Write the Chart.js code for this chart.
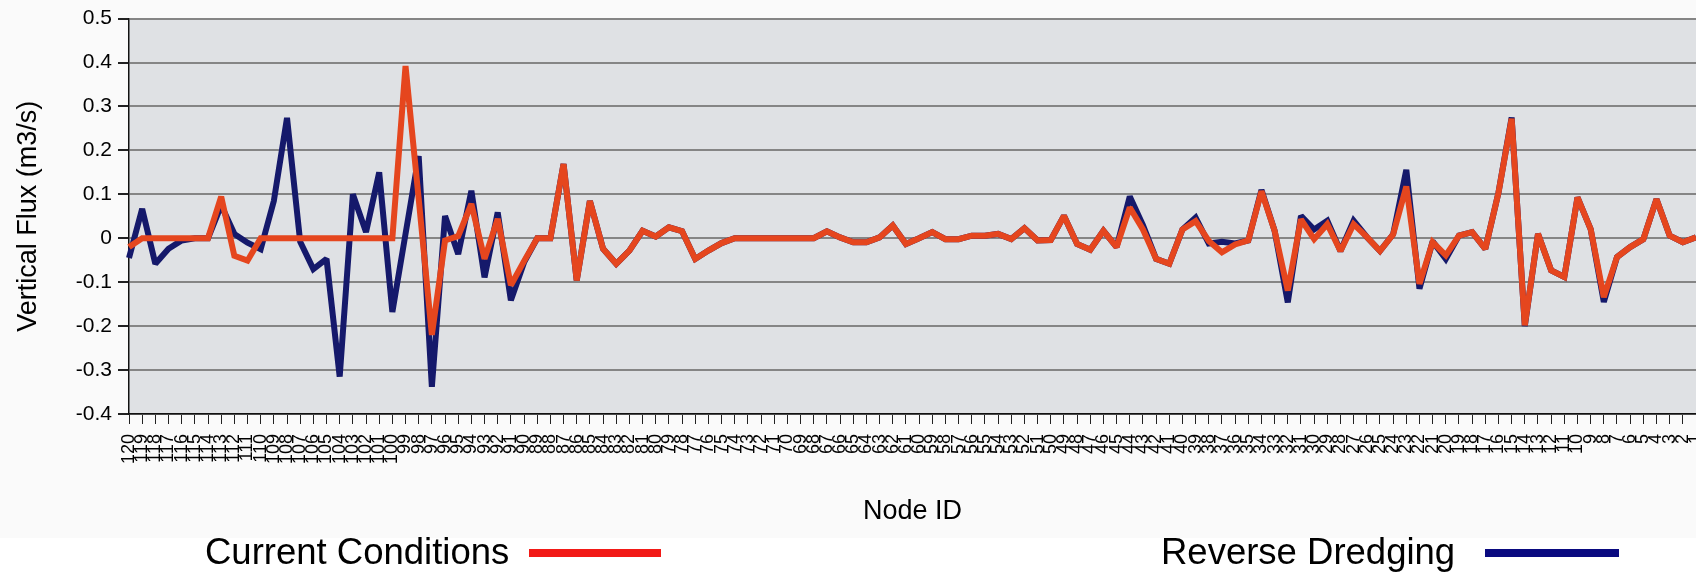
<!DOCTYPE html>
<html>
<head>
<meta charset="utf-8">
<script src="https://cdn.jsdelivr.net/npm/chart.js@4.4.1/dist/chart.umd.min.js"></script>
<style>
  html, body { margin: 0; padding: 0; background: #fff; overflow: hidden; }
  #wrap { position: relative; width: 1696px; height: 572px; }
  #wrap canvas { position: absolute; left: 0; top: 0; }
  .key-text {
    position: absolute; top: 534px; margin: 0;
    font-family: "Liberation Sans", Arial, sans-serif; font-size: 36.5px; line-height: 36px;
    color: #000; white-space: nowrap;
  }
  .key-line { position: absolute; top: 549px; height: 8px; }
</style>
</head>
<body>
<div id="wrap">
  <canvas id="flux" width="1696" height="572"></canvas>
  <div class="key-text" style="left:205px">Current Conditions</div>
  <div class="key-line" style="left:529px;width:132px;background:#f21a17"></div>
  <div class="key-text" style="left:1161px">Reverse Dredging</div>
  <div class="key-line" style="left:1485px;width:134px;background:#0a0a80"></div>
</div>
<script>
// Node IDs along the reach, listed downstream from 120 to 1
const nodeIds = [
  120,119,118,117,116,115,114,113,112,111,110,109,108,107,106,105,104,103,102,101,
  100,99,98,97,96,95,94,93,92,91,90,89,88,87,86,85,84,83,82,81,
  80,79,78,77,76,75,74,73,72,71,70,69,68,67,66,65,64,63,62,61,
  60,59,58,57,56,55,54,53,52,51,50,49,48,47,46,45,44,43,42,41,
  40,39,38,37,36,35,34,33,32,31,30,29,28,27,26,25,24,23,22,21,
  20,19,18,17,16,15,14,13,12,11,10,9,8,7,6,5,4,3,2,1
];

// Vertical flux (m3/s) per node, present-day bed
const currentConditions = [
  -0.02, 0, 0, 0, 0, 0, 0, 0.095, -0.04, -0.051,
  0, 0, 0, 0, 0, 0, 0, 0, 0, 0,
  0, 0.392, 0.09, -0.22, -0.005, 0.005, 0.078, -0.047, 0.044, -0.107,
  -0.052, 0, 0, 0.169, -0.096, 0.085, -0.024, -0.058, -0.028, 0.017,
  0.004, 0.025, 0.016, -0.047, -0.028, -0.011, 0, 0, 0, 0,
  0, 0, 0, 0.016, 0.002, -0.009, -0.009, 0.002, 0.029, -0.013,
  0, 0.014, -0.002, -0.002, 0.006, 0.006, 0.01, -0.002, 0.023, -0.005,
  -0.004, 0.051, -0.013, -0.026, 0.017, -0.02, 0.07, 0.02, -0.047, -0.058,
  0.02, 0.039, -0.006, -0.032, -0.014, -0.005, 0.107, 0.017, -0.119, 0.043,
  -0.002, 0.032, -0.029, 0.032, 0.003, -0.029, 0.009, 0.118, -0.104, -0.009,
  -0.039, 0.006, 0.014, -0.024, 0.104, 0.272, -0.198, 0.01, -0.073, -0.088,
  0.093, 0.021, -0.134, -0.043, -0.02, -0.002, 0.089, 0.006, -0.009, 0.002
];

// Vertical flux (m3/s) per node, reverse dredging scenario
const reverseDredging = [
  -0.045, 0.067, -0.058, -0.024, -0.005, 0, 0, 0.075, 0.01, -0.01,
  -0.025, 0.085, 0.274, -0.008, -0.07, -0.047, -0.315, 0.1, 0.014, 0.15,
  -0.168, 0.01, 0.187, -0.338, 0.051, -0.036, 0.108, -0.089, 0.059, -0.141,
  -0.055, 0, 0, 0.169, -0.096, 0.085, -0.024, -0.058, -0.028, 0.017,
  0.004, 0.025, 0.016, -0.047, -0.028, -0.011, 0, 0, 0, 0,
  0, 0, 0, 0.016, 0.002, -0.009, -0.009, 0.002, 0.029, -0.013,
  0, 0.014, -0.002, -0.002, 0.006, 0.006, 0.01, -0.002, 0.023, -0.005,
  -0.004, 0.051, -0.013, -0.026, 0.017, -0.02, 0.095, 0.03, -0.047, -0.058,
  0.02, 0.047, -0.012, -0.008, -0.012, -0.005, 0.11, 0.017, -0.146, 0.051,
  0.02, 0.04, -0.029, 0.04, 0.003, -0.029, 0.009, 0.156, -0.115, -0.007,
  -0.047, 0.006, 0.014, -0.024, 0.104, 0.275, -0.2, 0.01, -0.073, -0.088,
  0.093, 0.021, -0.145, -0.043, -0.02, -0.002, 0.089, 0.006, -0.009, 0.002
];

const FONT = '"Liberation Sans", Arial, sans-serif';

// Page and plot backgrounds
const backdrop = {
  id: 'backdrop',
  beforeDraw(chart) {
    const { ctx, chartArea: a } = chart;
    ctx.save();
    ctx.fillStyle = '#fafafa';
    ctx.fillRect(0, 0, chart.width, 538);
    ctx.fillStyle = '#ffffff';
    ctx.fillRect(0, 538, chart.width, chart.height - 538);
    ctx.fillStyle = '#dfe1e4';
    ctx.fillRect(a.left, a.top, a.right - a.left, a.bottom - a.top);
    ctx.restore();
  }
};

// Keep the sharp line corners from shooting far past their points
const cornerLimit = {
  id: 'cornerLimit',
  beforeDatasetsDraw(chart) { chart.ctx.miterLimit = 2; },
  afterDatasetsDraw(chart) { chart.ctx.miterLimit = 10; }
};

new Chart(document.getElementById('flux'), {
  type: 'line',
  data: {
    labels: nodeIds,
    datasets: [
      {
        label: 'Current Conditions',
        data: currentConditions,
        borderColor: '#e5461e',
        borderWidth: 6,
        borderJoinStyle: 'miter',
        pointRadius: 0,
        tension: 0,
        fill: false
      },
      {
        label: 'Reverse Dredging',
        data: reverseDredging,
        borderColor: '#15196b',
        borderWidth: 6,
        borderJoinStyle: 'miter',
        pointRadius: 0,
        tension: 0,
        fill: false
      }
    ]
  },
  options: {
    responsive: false,
    devicePixelRatio: 1,
    animation: false,
    layout: { padding: { top: 18, left: 0, right: 0, bottom: 0 } },
    plugins: {
      legend: { display: false },
      tooltip: { enabled: false }
    },
    scales: {
      x: {
        offset: false,
        grid: { drawOnChartArea: false, tickLength: 10, tickColor: '#222', lineWidth: 1 },
        border: { color: '#111', width: 1.5 },
        ticks: {
          autoSkip: false, maxRotation: 90, minRotation: 90, padding: 10,
          color: '#000', font: { family: FONT, size: 18 }
        },
        title: {
          display: true, text: 'Node ID', color: '#000',
          font: { family: FONT, size: 27 }, padding: { top: 0, bottom: 44 }
        },
        afterFit(scale) {
          scale.height = 158;
          scale.paddingLeft = 0;
          scale.paddingRight = 0;
        }
      },
      y: {
        min: -0.4,
        max: 0.5,
        grid: { color: '#858585', lineWidth: 2, tickLength: 11, tickColor: '#222' },
        border: { color: '#111', width: 1.5 },
        ticks: {
          stepSize: 0.1, padding: 6, color: '#000',
          font: { family: FONT, size: 21 },
          callback: v => String(Number(v.toFixed(1)))
        },
        title: {
          display: true, text: 'Vertical Flux (m3/s)', color: '#000',
          font: { family: FONT, size: 27 }, padding: { top: 12, bottom: 0 }
        },
        afterFit(scale) {
          scale.width = 129;
        }
      }
    }
  },
  plugins: [backdrop, cornerLimit]
});
</script>
</body>
</html>
